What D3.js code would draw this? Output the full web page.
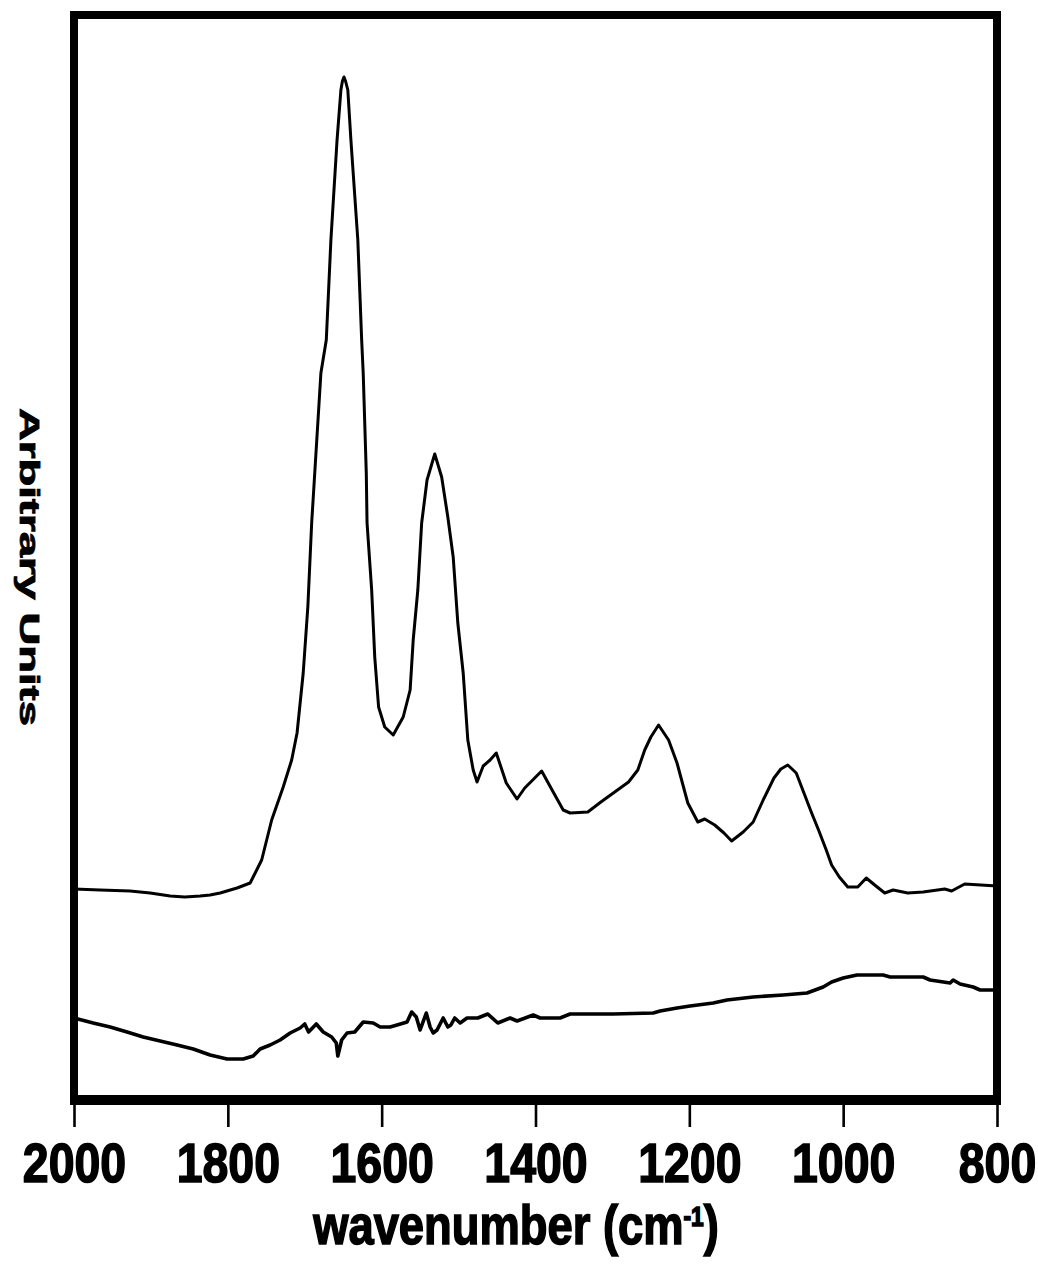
<!DOCTYPE html>
<html>
<head>
<meta charset="utf-8">
<script src="https://cdn.jsdelivr.net/npm/d3@7"></script>
<style>
  body { margin: 0; background: #fff; }
  svg { display: block; }
</style>
</head>
<body>
<svg id="chart" width="1038" height="1264"></svg>
<script>
// Wavenumber axis ticks (cm^-1), high to low as in IR convention
const xTicks = [2000, 1800, 1600, 1400, 1200, 1000, 800];

// Upper trace: sample spectrum (arbitrary units)
const upperWavenumber = [2000, 1966, 1927, 1901, 1875, 1856, 1836, 1823, 1810, 1788, 1771, 1756, 1743, 1728, 1717, 1710, 1702, 1696, 1691, 1687, 1679, 1672, 1666, 1658, 1653, 1651, 1649, 1647, 1644, 1640, 1631, 1626, 1624, 1620, 1619, 1613, 1609, 1604, 1596, 1585, 1572, 1563, 1559, 1553, 1548, 1541, 1531, 1522, 1514, 1507, 1501, 1494, 1488, 1481, 1476, 1468, 1459, 1451, 1438, 1424, 1414, 1392, 1377, 1364, 1355, 1332, 1315, 1297, 1279, 1267, 1258, 1250, 1240, 1227, 1216, 1202, 1189, 1180, 1167, 1155, 1145, 1130, 1117, 1104, 1090, 1081, 1072, 1061, 1050, 1041, 1032, 1022, 1015, 1005, 994, 981, 970, 959, 946, 935, 916, 896, 868, 859, 842, 800];
const upperIntensity = [21.1, 21.0, 20.9, 20.7, 20.4, 20.3, 20.4, 20.5, 20.7, 21.2, 21.7, 24.0, 28.0, 31.3, 34.0, 36.7, 42.7, 49.3, 57.7, 62.7, 72.7, 76.0, 86.0, 96.0, 101.0, 101.9, 102.3, 101.9, 101.0, 96.0, 86.0, 76.0, 72.7, 62.7, 57.7, 51.0, 44.3, 39.3, 37.3, 36.5, 38.3, 41.0, 46.0, 51.0, 57.7, 62.0, 64.6, 62.3, 58.3, 54.3, 47.7, 42.7, 36.0, 33.0, 31.8, 33.4, 34.0, 34.7, 31.7, 30.1, 31.2, 32.9, 30.8, 29.0, 28.7, 28.8, 29.8, 30.8, 31.8, 33.0, 35.0, 36.3, 37.5, 36.0, 33.7, 29.7, 27.8, 28.1, 27.5, 26.7, 25.9, 26.8, 27.8, 30.0, 32.2, 33.1, 33.5, 32.7, 30.5, 28.7, 27.0, 25.0, 23.5, 22.3, 21.3, 21.3, 22.2, 21.5, 20.7, 21.0, 20.7, 20.8, 21.1, 20.9, 21.6, 21.4];

// Lower trace: reference / background spectrum (arbitrary units)
const lowerWavenumber = [2000, 1975, 1953, 1931, 1910, 1888, 1866, 1845, 1823, 1801, 1780, 1767, 1758, 1745, 1732, 1719, 1706, 1700, 1695, 1685, 1676, 1665, 1659, 1657, 1652, 1645, 1635, 1624, 1611, 1602, 1589, 1580, 1567, 1561, 1555, 1550, 1542, 1537, 1533, 1528, 1520, 1514, 1510, 1505, 1498, 1489, 1475, 1462, 1449, 1433, 1424, 1403, 1394, 1368, 1355, 1299, 1247, 1238, 1216, 1199, 1169, 1151, 1117, 1078, 1047, 1026, 1015, 1000, 982, 948, 939, 896, 887, 861, 857, 848, 831, 822, 800];
const lowerIntensity = [8.2, 7.7, 7.3, 6.8, 6.3, 5.9, 5.5, 5.1, 4.5, 4.1, 4.1, 4.4, 5.1, 5.5, 6.0, 6.7, 7.2, 7.6, 6.8, 7.6, 6.8, 6.3, 5.7, 4.4, 6.0, 6.7, 6.8, 7.8, 7.7, 7.3, 7.3, 7.5, 7.8, 8.8, 8.3, 7.0, 8.7, 7.3, 6.7, 7.0, 8.2, 7.3, 7.5, 8.2, 7.7, 8.2, 8.2, 8.6, 7.7, 8.2, 7.9, 8.5, 8.2, 8.2, 8.6, 8.6, 8.7, 8.9, 9.2, 9.4, 9.7, 10.0, 10.3, 10.5, 10.7, 11.3, 11.8, 12.2, 12.5, 12.5, 12.3, 12.3, 12.0, 11.7, 12.0, 11.6, 11.3, 11.0, 11.0];

const svg = d3.select("#chart");

const plot = { left: 74, right: 997, top: 15, bottom: 1100 };

const x = d3.scaleLinear().domain([2000, 800]).range([plot.left, plot.right]);
const y = d3.scaleLinear().domain([0, 108.5]).range([plot.bottom, plot.top]);

const line = d3.line()
  .x(d => x(d[0]))
  .y(d => y(d[1]));

const upper = d3.zip(upperWavenumber, upperIntensity);
const lower = d3.zip(lowerWavenumber, lowerIntensity);

svg.append("path")
  .datum(upper)
  .attr("d", line)
  .attr("fill", "none")
  .attr("stroke", "#000")
  .attr("stroke-width", 3)
  .attr("stroke-linejoin", "round");

svg.append("path")
  .datum(lower)
  .attr("d", line)
  .attr("fill", "none")
  .attr("stroke", "#000")
  .attr("stroke-width", 3.6)
  .attr("stroke-linejoin", "round");

// Frame: top, left and right edges (bottom edge is the axis)
const frame = svg.append("g").attr("stroke", "#000").attr("stroke-width", 8).attr("stroke-linecap", "square");
frame.append("line").attr("x1", plot.left).attr("x2", plot.right).attr("y1", plot.top).attr("y2", plot.top);
frame.append("line").attr("x1", plot.left).attr("x2", plot.left).attr("y1", plot.top).attr("y2", plot.bottom);
frame.append("line").attr("x1", plot.right).attr("x2", plot.right).attr("y1", plot.top).attr("y2", plot.bottom);

// Bottom axis
const xAxis = d3.axisBottom(x)
  .tickValues(xTicks)
  .tickSize(27)
  .tickSizeOuter(0)
  .tickFormat(d3.format("d"));

const gx = svg.append("g")
  .attr("transform", `translate(0,${plot.bottom})`)
  .call(xAxis);

gx.select(".domain")
  .attr("stroke", "#000")
  .attr("stroke-width", 10)
  .attr("d", `M${plot.left - 4},0H${plot.right + 4}`);

gx.selectAll(".tick line")
  .attr("stroke", "#000")
  .attr("stroke-width", 2.6);

gx.selectAll(".tick text")
  .attr("y", 82)
  .attr("dy", 0)
  .attr("fill", "#000")
  .attr("stroke", "#000")
  .attr("stroke-width", 1.6)
  .attr("font-family", "'Liberation Sans', Arial, sans-serif")
  .attr("font-weight", "bold")
  .attr("font-size", 56)
  .attr("transform", "scale(0.83,1)");

// Axis title
const title = svg.append("text")
  .attr("transform", "translate(516,1244) scale(0.81,1)")
  .attr("text-anchor", "middle")
  .attr("font-family", "'Liberation Sans', Arial, sans-serif")
  .attr("font-weight", "bold")
  .attr("font-size", 56)
  .attr("fill", "#000")
  .attr("stroke", "#000")
  .attr("stroke-width", 1.6);
title.append("tspan").text("wavenumber (cm");
title.append("tspan").attr("dy", -18).attr("font-size", 28).text("-1");
title.append("tspan").attr("dy", 18).text(")");

// Vertical axis label
svg.append("text")
  .attr("transform", "translate(20,567) rotate(90)")
  .attr("text-anchor", "middle")
  .attr("font-family", "'Liberation Sans', Arial, sans-serif")
  .attr("font-weight", "bold")
  .attr("font-size", 27)
  .attr("textLength", 318)
  .attr("lengthAdjust", "spacingAndGlyphs")
  .attr("fill", "#000")
  .attr("stroke", "#000")
  .attr("stroke-width", 0.8)
  .text("Arbitrary Units");
</script>
</body>
</html>
